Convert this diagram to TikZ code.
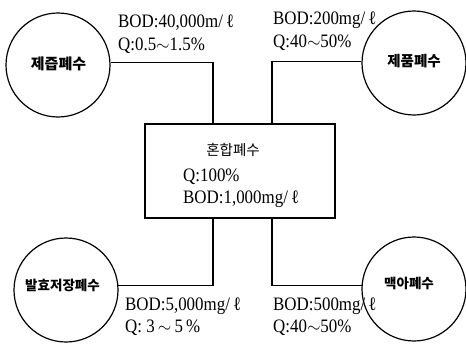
\documentclass[tikz,border=0pt]{standalone}
\usepackage{fontspec}
\setmainfont{Liberation Serif}[FakeStretch=0.89]
\newfontfamily\kr{Noto Sans CJK KR}
\newcommand{\lit}{\,ℓ}
\newcommand{\til}{$\sim$}
\begin{document}
\begin{tikzpicture}[x=1pt,y=-1pt,
  tank/.style={circle,draw,line width=1.2pt,minimum size=104pt,inner sep=0pt},
  pipe/.style={line width=1.2pt},
  krlabel/.style={font=\kr\bfseries\fontsize{15}{15}\selectfont,inner sep=0pt},
  val/.style={anchor=base west,inner sep=0pt,text height=13pt,text depth=3pt,
    font=\fontsize{19}{19}\selectfont}]
\useasboundingbox[fill=white] (0,0) rectangle (466,343);

% wastewater sources
\node[tank] (tl) at (58,65) {};
\node[tank] (tr) at (414,63) {};
\node[tank] (bl) at (66,290) {};
\node[tank] (br) at (414,289) {};
\node[krlabel] (tlt) at (58.5,63.5) {제즙폐수};
\node[krlabel,font=\kr\bfseries\fontsize{14.5}{14.5}\selectfont] (trt) at (414,61.5) {제품폐수};
\node[krlabel,font=\kr\bfseries\fontsize{13.5}{13.5}\selectfont] (blt) at (62.5,285) {발효저장폐수};
\node[krlabel,font=\kr\bfseries\fontsize{13.5}{13.5}\selectfont] (brt) at (409,283.5) {맥아폐수};

% mixing tank
\node[draw,line width=1.2pt,minimum width=190pt,minimum height=94pt,inner sep=0pt] (mix) at (240,171) {};
\node[inner sep=0pt,font=\kr\fontsize{14.5}{14.5}\selectfont] (mixt) at (233,150) {혼합폐수};
\node[val] (mq) at (183,181) {Q:100\%};
\node[val] (mb) at (183,203) {BOD:1,000mg/\lit};

% pipe junctions on the tank
\coordinate (pa) at (213,0);
\coordinate (pb) at (272,0);
\draw[pipe] (tl.3) -| (mix.north -| pa);
\draw[pipe] (tr.178) -| (mix.north -| pb);
\draw[pipe] (bl.5.5) -| (mix.south -| pa);
\draw[pipe] (br.176) -| (mix.south -| pb);

% stream data
\node[val] (b1) at (118,27) {BOD:40,000m/\lit};
\node[val] (q1) at (118,50) {Q:0.5\til1.5\%};
\node[val] (b2) at (273,24) {BOD:200mg/\lit};
\node[val] (q2) at (273,47) {Q:40\til50\%};
\node[val] (b3) at (125,310) {BOD:5,000mg/\lit};
\node[val] (q3) at (125,332) {Q:~3\,\til\,5\,\%};
\node[val] (b4) at (273,310) {BOD:500mg/\lit};
\node[val] (q4) at (273,332) {Q:40\til50\%};
\end{tikzpicture}
\end{document}
